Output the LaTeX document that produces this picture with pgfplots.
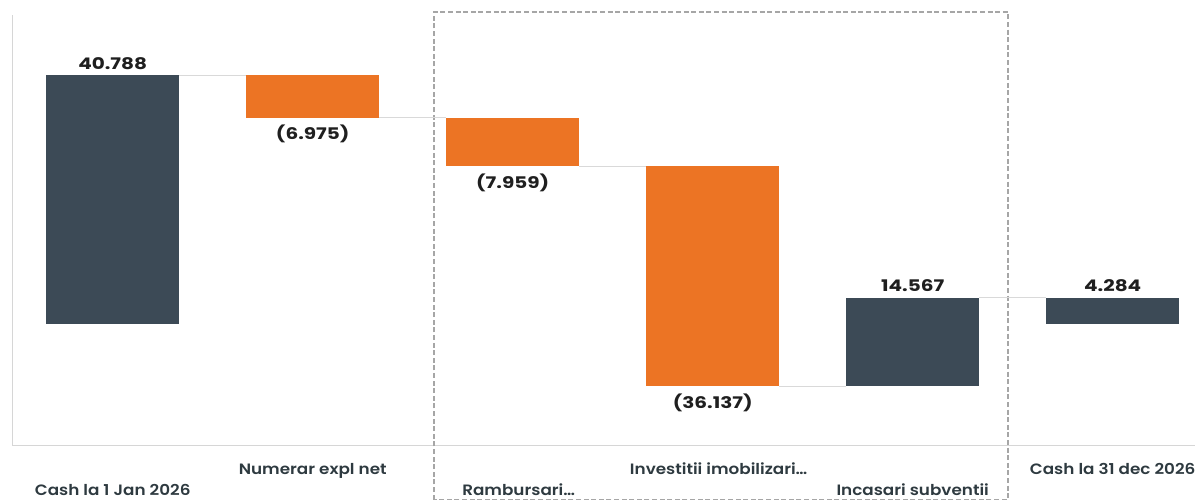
\documentclass[border=0pt]{standalone}
\usepackage{pgfplots}
\pgfplotsset{compat=1.18}
\usepackage{fontspec}
\setmainfont{Poppins}[FakeStretch=1.12]
\newfontfamily\catfont{Poppins}[UprightFont=* SemiBold, FakeStretch=1.12]
\newfontfamily\valfont{Poppins}[UprightFont=* Bold, FakeStretch=1.25]
\definecolor{slate}{HTML}{3C4A56}
\definecolor{orng}{HTML}{EC7424}
\definecolor{conn}{HTML}{D9D9D9}
\definecolor{axl}{HTML}{D6D6D6}
\definecolor{dashc}{HTML}{A6A6A6}
\definecolor{valtxt}{HTML}{1F1F1F}
\definecolor{cattxt}{HTML}{2E3A40}
\pgfplotsset{common/.style={x=100pt, y=3.045pt, xmin=-0.502, xmax=5.4115, ymin=-20.03, ymax=50.7, clip=false, enlargelimits=false}}
\begin{document}
\begin{tikzpicture}
\begin{axis}[common,
  axis lines*=left,
  axis line style={axl, line width=0.65pt, -},
  ytick=\empty,
  xtick={0,2,4},
  xticklabels={Cash la 1 Jan 2026, \hspace*{6pt}Rambursari…, Incasari subventii},
  extra x ticks={1,3,5},
  extra x tick labels={Numerar expl net, \hspace*{6pt}Investitii imobilizari…, Cash la 31 dec 2026},
  major tick length=0pt,
  xticklabel style={anchor=base, yshift=-25.15pt, font=\catfont\fontsize{7.5}{9}\selectfont, text=cattxt},
  extra x tick style={xticklabel style={yshift=10.5pt}},
]
\draw[dashc, line width=0.6pt, dash pattern=on 2.5pt off 1.3pt] (axis cs:1.6065,-28.87) rectangle (axis cs:4.4765,51.18);
% connectors
\addplot[conn, line width=0.5pt, forget plot] coordinates {(0.3325,40.788) (0.6675,40.788)};
\addplot[conn, line width=0.5pt, forget plot] coordinates {(1.3325,33.813) (1.6675,33.813)};
\addplot[conn, line width=0.5pt, forget plot] coordinates {(2.3325,25.854) (2.6675,25.854)};
\addplot[conn, line width=0.5pt, forget plot] coordinates {(3.3325,-10.283) (3.6675,-10.283)};
\addplot[conn, line width=0.5pt, forget plot] coordinates {(4.3325,4.284) (4.6675,4.284)};
% bars (floating waterfall bars: left, right, low, high)
\addplot[draw=none, fill=slate] coordinates {(-0.3325,0) (0.3325,0) (0.3325,40.788) (-0.3325,40.788)} -- cycle;
\addplot[draw=none, fill=orng] coordinates {(0.6675,33.813) (1.3325,33.813) (1.3325,40.788) (0.6675,40.788)} -- cycle;
\addplot[draw=none, fill=orng] coordinates {(1.6675,25.854) (2.3325,25.854) (2.3325,33.813) (1.6675,33.813)} -- cycle;
\addplot[draw=none, fill=orng] coordinates {(2.6675,-10.283) (3.3325,-10.283) (3.3325,25.854) (2.6675,25.854)} -- cycle;
\addplot[draw=none, fill=slate] coordinates {(3.6675,-10.283) (4.3325,-10.283) (4.3325,4.284) (3.6675,4.284)} -- cycle;
\addplot[draw=none, fill=slate] coordinates {(4.6675,0) (5.3325,0) (5.3325,4.284) (4.6675,4.284)} -- cycle;
% value labels
\addplot[only marks, mark=none, nodes near coords, point meta=explicit symbolic,
  nodes near coords style={anchor=base, inner sep=0pt, yshift=3pt, font=\valfont\fontsize{8}{9.6}\selectfont, text=valtxt}]
  coordinates {(0,40.788)[40.788] (4,4.284)[14.567] (5,4.284)[4.284]};
\addplot[only marks, mark=none, nodes near coords, point meta=explicit symbolic,
  nodes near coords style={anchor=north, inner sep=0pt, yshift=-3.5pt, font=\valfont\fontsize{8}{9.6}\selectfont, text=valtxt}]
  coordinates {(1,33.813)[(6.975)] (2,25.854)[(7.959)] (3,-10.283)[(36.137)]};
\coordinate (bl) at (axis cs:-0.5635,-29.11);
\coordinate (tr) at (axis cs:5.4115,53.15);
\end{axis}
\pgfresetboundingbox
\path[use as bounding box] (bl) rectangle (tr);
\end{tikzpicture}
\end{document}
